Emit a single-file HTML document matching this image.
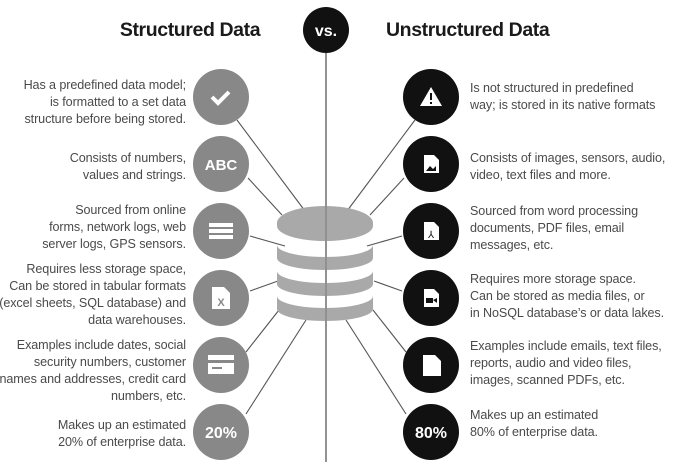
<!DOCTYPE html>
<html><head><meta charset="utf-8"><style>
html,body{margin:0;padding:0;background:#fff;}
svg{display:block}
text{font-family:"Liberation Sans",sans-serif;}
.l{font-size:12.6px;fill:#4a4a4a;text-anchor:end;letter-spacing:-0.1px}
.r{font-size:12.6px;fill:#4a4a4a;letter-spacing:-0.1px}
</style></head><body>
<svg width="677" height="462" viewBox="0 0 677 462">
<line x1="326" y1="40" x2="326" y2="462" stroke="#777" stroke-width="1.6"/>
<g stroke="#555" stroke-width="1.1">
<line x1="237" y1="120" x2="305" y2="211"/>
<line x1="248" y1="178" x2="282" y2="215"/>
<line x1="250" y1="236" x2="285" y2="246"/>
<line x1="250" y1="291" x2="278" y2="281"/>
<line x1="246" y1="352" x2="279" y2="310"/>
<line x1="246" y1="414" x2="306" y2="320"/>
<line x1="415" y1="120" x2="347" y2="211"/>
<line x1="404" y1="178" x2="370" y2="215"/>
<line x1="402" y1="236" x2="367" y2="246"/>
<line x1="402" y1="291" x2="374" y2="281"/>
<line x1="406" y1="352" x2="373" y2="310"/>
<line x1="406" y1="414" x2="346" y2="320"/>
</g>
<g fill="#a9a9a9">
<path d="M277 223 A48 17 0 0 1 373 223 L373 226 A48 15 0 0 1 277 226 Z"/>
<path d="M277 245 A48 12 0 0 0 373 245 L373 258 A48 12 0 0 1 277 258 Z"/>
<path d="M277 271 A48 12 0 0 0 373 271 L373 284 A48 12 0 0 1 277 284 Z"/>
<path d="M277 296 A48 12 0 0 0 373 296 L373 309 A48 12 0 0 1 277 309 Z"/>
</g>
<line x1="326" y1="205" x2="326" y2="322" stroke="#888" stroke-width="1.5"/>
<circle cx="326" cy="30" r="23" fill="#111"/>
<text x="326" y="36" font-size="16" font-weight="bold" fill="#fff" text-anchor="middle">vs.</text>
<text x="190" y="36" font-size="19.5" font-weight="bold" fill="#1a1a1a" text-anchor="middle" letter-spacing="-0.4">Structured Data</text>
<text x="386" y="36" font-size="19.5" font-weight="bold" fill="#1a1a1a" letter-spacing="-0.4">Unstructured Data</text>
<g fill="#888">
<circle cx="221" cy="97" r="28"/><circle cx="221" cy="164" r="28"/><circle cx="221" cy="231" r="28"/>
<circle cx="221" cy="298" r="28"/><circle cx="221" cy="365" r="28"/><circle cx="221" cy="432" r="28"/>
</g>
<path d="M212 97 l6 6 l11 -11" stroke="#fff" stroke-width="4" fill="none"/>
<text x="221" y="170" font-size="15" font-weight="bold" fill="#fff" text-anchor="middle">ABC</text>
<g fill="#fff"><rect x="209" y="223" width="24" height="4"/><rect x="209" y="229" width="24" height="4"/><rect x="209" y="235" width="24" height="4"/></g>
<path d="M212 287 h12 l6 6 v16 h-18 z" fill="#fff"/><text x="221" y="306" font-size="11" font-weight="bold" fill="#888" text-anchor="middle">X</text>
<rect x="208" y="355" width="26" height="19" fill="#fff"/><rect x="208" y="360" width="26" height="3" fill="#888"/><rect x="212" y="367" width="10" height="2" fill="#888"/>
<text x="221" y="438" font-size="16" font-weight="bold" fill="#fff" text-anchor="middle">20%</text>
<g fill="#111">
<circle cx="431" cy="97" r="28"/><circle cx="431" cy="164" r="28"/><circle cx="431" cy="231" r="28"/>
<circle cx="431" cy="298" r="28"/><circle cx="431" cy="365" r="28"/><circle cx="431" cy="432" r="28"/>
</g>
<path d="M431 87 l11 19 h-22 z" fill="#fff"/><rect x="430" y="93" width="2" height="7" fill="#111"/><rect x="430" y="102" width="2" height="2" fill="#111"/>
<path d="M424 155 h10 l5 5 v13 h-15 z" fill="#fff"/><path d="M426 171 l4 -5 l3 3 l3 -3 v5 z" fill="#111"/>
<path d="M424 222 h10 l5 5 v13 h-15 z" fill="#fff"/><text x="431" y="238" font-size="10" fill="#111" text-anchor="middle">⅄</text>
<path d="M424 289 h10 l5 5 v13 h-15 z" fill="#fff"/><rect x="426" y="298" width="7" height="5" fill="#111"/><path d="M433 300 l4 -2 v5 z" fill="#111"/>
<path d="M423 355 h12 l6 6 v15 h-18 z" fill="#fff"/>
<text x="431" y="438" font-size="16" font-weight="bold" fill="#fff" text-anchor="middle">80%</text>
<text class="l"><tspan x="186" y="89">Has a predefined data model;</tspan><tspan x="186" y="106">is formatted to a set data</tspan><tspan x="186" y="123">structure before being stored.</tspan></text>
<text class="l"><tspan x="186" y="162">Consists of numbers,</tspan><tspan x="186" y="179">values and strings.</tspan></text>
<text class="l"><tspan x="186" y="214">Sourced from online</tspan><tspan x="186" y="231">forms, network logs, web</tspan><tspan x="186" y="248">server logs, GPS sensors.</tspan></text>
<text class="l"><tspan x="186" y="273">Requires less storage space,</tspan><tspan x="186" y="290">Can be stored in tabular formats</tspan><tspan x="186" y="307">(excel sheets, SQL database) and</tspan><tspan x="186" y="324">data warehouses.</tspan></text>
<text class="l"><tspan x="186" y="349">Examples include dates, social</tspan><tspan x="186" y="366">security numbers, customer</tspan><tspan x="186" y="383">names and addresses, credit card</tspan><tspan x="186" y="400">numbers, etc.</tspan></text>
<text class="l"><tspan x="186" y="429">Makes up an estimated</tspan><tspan x="186" y="446">20% of enterprise data.</tspan></text>
<text class="r"><tspan x="470" y="92">Is not structured in predefined</tspan><tspan x="470" y="109">way; is stored in its native formats</tspan></text>
<text class="r"><tspan x="470" y="162">Consists of images, sensors, audio,</tspan><tspan x="470" y="179">video, text files and more.</tspan></text>
<text class="r"><tspan x="470" y="215">Sourced from word processing</tspan><tspan x="470" y="232">documents, PDF files, email</tspan><tspan x="470" y="249">messages, etc.</tspan></text>
<text class="r"><tspan x="470" y="283">Requires more storage space.</tspan><tspan x="470" y="300">Can be stored as media files, or</tspan><tspan x="470" y="317">in NoSQL database’s or data lakes.</tspan></text>
<text class="r"><tspan x="470" y="350">Examples include emails, text files,</tspan><tspan x="470" y="367">reports, audio and video files,</tspan><tspan x="470" y="384">images, scanned PDFs, etc.</tspan></text>
<text class="r"><tspan x="470" y="419">Makes up an estimated</tspan><tspan x="470" y="436">80% of enterprise data.</tspan></text>
</svg>
</body></html>
